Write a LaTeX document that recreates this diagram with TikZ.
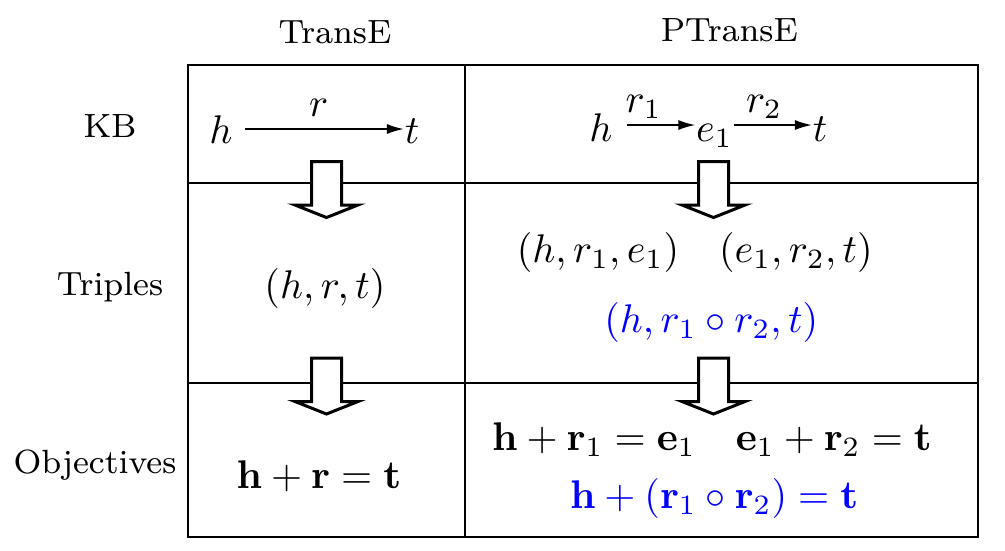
\documentclass[tikz,border=0pt]{standalone}
\usepackage[no-math]{fontspec}
\usepackage{amsmath}
\usepackage{tikz}
\usetikzlibrary{positioning, arrows.meta}

\begin{document}
\begin{tikzpicture}[x=0.25pt, y=-0.25pt, >={Latex[length=4.25pt, width=2.5pt]},
    lbl/.style={font=\fontsize{8.4}{10}\selectfont, anchor=base},
    mth/.style={font=\fontsize{10}{12}\selectfont, anchor=base},
    ent/.style={mth, inner sep=0pt, text height=7pt, text depth=0pt},
    lab/.style={mth, inner sep=0pt, text depth=0pt, above=3pt},
    tbl/.style={line width=0.55pt},
    blk/.style={line width=0.75pt, fill=white}]
    \useasboundingbox (0,0) rectangle (1005,550);

    % table
    \draw[tbl] (188,65) rectangle (978,537);
    \draw[tbl] (465,65) -- (465,537);
    \draw[tbl] (188,183) -- (978,183);
    \draw[tbl] (188,383) -- (978,383);

    % headers
    \node[lbl] (c_1) at (335,43.3) {TransE};
    \node[lbl] (c_2) at (729.3,41.7) {PTransE};
    \node[lbl] (r_1) at (110,137) {KB};
    \node[lbl] (r_2) at (110,295) {Triples};
    \node[lbl] (r_3) at (95,473) {Objectives};

    % KB row
    \node[ent] (kb_1) at (221,143) {$h$};
    \node[ent] (kb_2) at (412,143) {$t$};
    \node[ent, text height=8pt] (kb_3) at (601,141) {$h$};
    \node[ent, text height=8pt] (kb_4) at (714.5,141) {$e_1$};
    \node[ent, text height=8pt] (kb_5) at (820,141) {$t$};

    \path[->, line width=0.45pt]
        (kb_1) edge [shorten <=3pt] node[lab] {$r$} (kb_2)
        (kb_3) edge [shorten <=3.5pt] node[lab, pos=0.37] {$r_1$} (kb_4)
        (kb_4) edge node[lab, pos=0.39] {$r_2$} (kb_5);

    % triples row
    \node[mth] (tr_1) at (325,298) {$(h,r,t)$};
    \node[mth] (tr_2) at (694.8,262) {$(h,r_1,e_1)\quad(e_1,r_2,t)$};
    \node[mth, blue] (tr_3) at (711.3,332) {$(h,r_1\circ r_2,t)$};

    % objectives row
    \node[mth] (ob_1) at (319,488) {$\mathbf{h}+\mathbf{r}=\mathbf{t}$};
    \node[mth] (ob_2) at (712,450) {$\mathbf{h}+\mathbf{r}_1=\mathbf{e}_1\quad\mathbf{e}_1+\mathbf{r}_2=\mathbf{t}$};
    \node[mth, blue] (ob_3) at (714.2,508) {$\mathbf{h}+(\mathbf{r}_1\circ\mathbf{r}_2)=\mathbf{t}$};

    % block arrows
    \foreach \x/\y in {326.5/161.5, 326.5/358, 713.5/161.5, 713.5/358}
        \draw[blk] (\x-15,\y) -- (\x+15,\y) -- (\x+15,\y+43.5) -- (\x+31.5,\y+43.5)
            -- (\x,\y+56) -- (\x-31.5,\y+43.5) -- (\x-15,\y+43.5) -- cycle;
\end{tikzpicture}
\end{document}
